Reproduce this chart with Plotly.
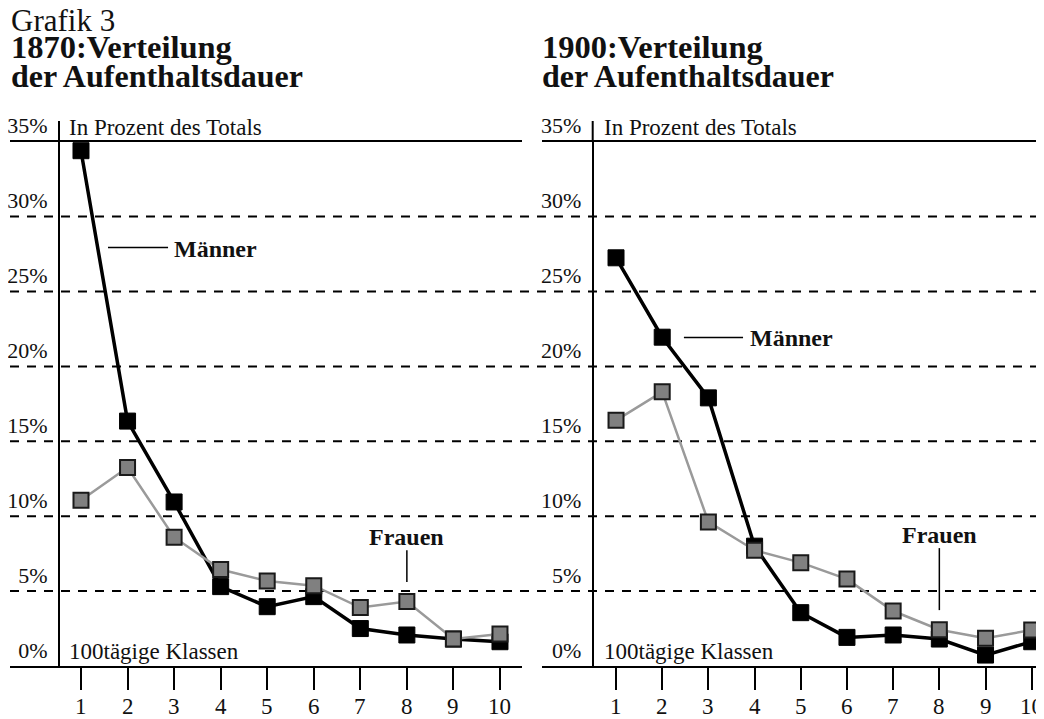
import plotly.graph_objects as go

# ---- data ----
klassen = list(range(1, 11))
klassen_labels = [str(k) for k in klassen]
maenner_1870 = [34.4, 16.35, 10.95, 5.3, 3.96, 4.63, 2.5, 2.07, 1.8, 1.62]
frauen_1870 = [11.07, 13.25, 8.6, 6.44, 5.67, 5.36, 3.9, 4.3, 1.8, 2.13]
maenner_1900 = [27.25, 21.95, 17.9, 8.0, 3.56, 1.91, 2.07, 1.8, 0.73, 1.62]
frauen_1900 = [16.4, 18.3, 9.62, 7.73, 6.9, 5.8, 3.67, 2.42, 1.85, 2.4]
y_ticks = [0, 5, 10, 15, 20, 25, 30, 35]
y_tick_labels = ["0%", "5%", "10%", "15%", "20%", "25%", "30%", "35%"]
grid_levels = [5, 10, 15, 20, 25, 30]

# the page body has an 8px margin; size the figure so it fits the window
OFF = 8
W, H = 1044 - OFF, 719 - OFF
SERIF = "Liberation Serif, Times New Roman, serif"


def px(x):
    return (x - OFF) / W


def py(y):
    return 1 - (y - OFF) / H


y_dom = [py(666), py(141.7)]

fig = go.Figure()


def add_series(xa, ya, m, f):
    fig.add_trace(go.Scatter(
        x=klassen, y=m, mode="lines+markers", xaxis=xa, yaxis=ya,
        line=dict(color="#000000", width=3.5),
        marker=dict(symbol="square", size=16, color="#000000",
                    line=dict(color="#000000", width=1)),
        cliponaxis=False, showlegend=False, name="Männer"))
    fig.add_trace(go.Scatter(
        x=klassen, y=f, mode="lines+markers", xaxis=xa, yaxis=ya,
        line=dict(color="#9a9a9a", width=2.5),
        marker=dict(symbol="square", size=15, color="#808080",
                    line=dict(color="#1a1a1a", width=2)),
        cliponaxis=False, showlegend=False, name="Frauen"))


add_series("x", "y", maenner_1870, frauen_1870)
add_series("x2", "y2", maenner_1900, frauen_1900)

xcommon = dict(
    tickvals=klassen, ticktext=klassen_labels, ticks="outside", ticklen=22,
    tickwidth=2, tickcolor="#000000", showline=True, mirror=True,
    linecolor="#000000", linewidth=2, showgrid=False, zeroline=False,
    showticklabels=False, automargin=False, fixedrange=True)
ycommon = dict(
    domain=y_dom, range=[0, 35], anchor="free", tickvals=y_ticks,
    ticktext=y_tick_labels, ticks="", showline=True, linecolor="#000000",
    linewidth=2, showgrid=False, zeroline=False, ticklabelshift=-16,
    ticklabelstandoff=6, tickfont=dict(family=SERIF, size=22, color="#111111"),
    automargin=False, fixedrange=True)

fig.update_layout(
    width=W, height=H, margin=dict(l=0, r=0, t=0, b=0, autoexpand=False),
    paper_bgcolor="#ffffff", plot_bgcolor="rgba(0,0,0,0)",
    xaxis=dict(domain=[px(10), px(522)], range=[-0.525, 10.473], anchor="y", **xcommon),
    yaxis=dict(position=px(59), **ycommon),
    xaxis2=dict(domain=[px(541.7), 1.0], range=[-0.609, 10.266], anchor="y2", **xcommon),
    yaxis2=dict(position=px(592.7), **ycommon),
)

shapes = []
# dashed reference lines across the whole width
for v in grid_levels:
    shapes.append(dict(type="line", xref="paper", yref="y", x0=px(10), x1=1.0,
                       y0=v, y1=v, layer="below",
                       line=dict(color="#000000", width=2, dash="9px,8px")))
# y-axis extensions above the 35% line
for xpos in (59, 592.7):
    shapes.append(dict(type="line", xref="paper", yref="paper", x0=px(xpos), x1=px(xpos),
                       y0=py(141.7), y1=py(121), line=dict(color="#000000", width=2)))
# leader lines for labels
shapes.append(dict(type="line", xref="x", yref="y", x0=1.58, x1=2.87, y0=27.93, y1=27.93,
                   line=dict(color="#000000", width=1.5)))
shapes.append(dict(type="line", xref="x2", yref="y2", x0=2.47, x1=3.75, y0=21.93, y1=21.93,
                   line=dict(color="#000000", width=1.5)))
shapes.append(dict(type="line", xref="x", yref="y", x0=8, x1=8, y0=7.73, y1=5.6,
                   line=dict(color="#000000", width=1.5)))
shapes.append(dict(type="line", xref="x2", yref="y2", x0=8, x1=8, y0=7.87, y1=3.73,
                   line=dict(color="#000000", width=1.5)))
fig.update_layout(shapes=shapes)

ann = []


def text(x, y, s, size, bold=False, xanchor="left", xref="paper", yref="paper"):
    ann.append(dict(x=x, y=y, xref=xref, yref=yref, text=("<b>%s</b>" % s) if bold else s,
                    showarrow=False, xanchor=xanchor, yanchor="middle", borderpad=0,
                    font=dict(family=SERIF, size=size, color="#111111")))


text(px(10), py(20), "Grafik 3", 31)
text(px(10), py(47), "1870:Verteilung", 32.5, bold=True)
text(px(10), py(76), "der Aufenthaltsdauer", 32, bold=True)
text(px(541), py(47), "1900:Verteilung", 32.5, bold=True)
text(px(541), py(76), "der Aufenthaltsdauer", 32, bold=True)
text(px(68), py(127), "In Prozent des Totals", 23)
text(px(603), py(127), "In Prozent des Totals", 23)
text(px(68), py(651), "100tägige Klassen", 23)
text(px(603), py(651), "100tägige Klassen", 23)
text(2.98, 27.87, "Männer", 24, bold=True, xref="x", yref="y")
text(3.88, 21.87, "Männer", 24, bold=True, xref="x2", yref="y2")
text(8, 8.6, "Frauen", 24, bold=True, xanchor="center", xref="x", yref="y")
text(8, 8.75, "Frauen", 24, bold=True, xanchor="center", xref="x2", yref="y2")
# x tick labels for both panels
for xa in ("x", "x2"):
    for k, lab in zip(klassen, klassen_labels):
        text(k, py(706.5), lab, 23, xanchor="center", xref=xa, yref="paper")
fig.update_layout(annotations=ann)

fig.write_html("out.html")
